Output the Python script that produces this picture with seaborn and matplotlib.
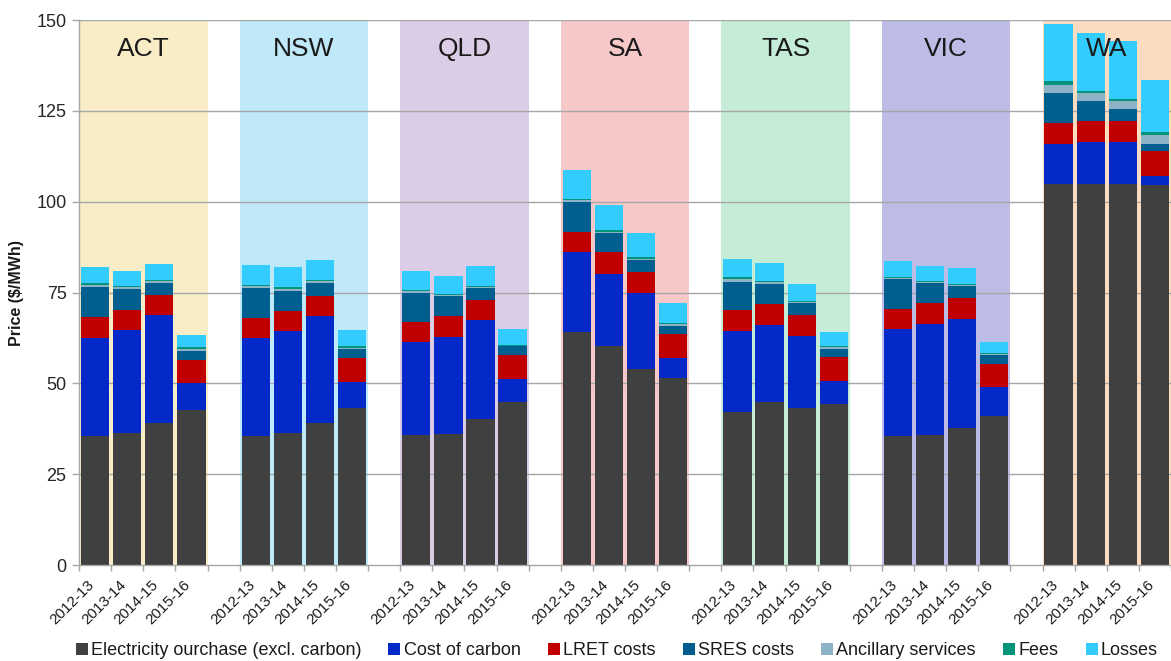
import numpy as np
import pandas as pd
import matplotlib
matplotlib.use("Agg")
import matplotlib.pyplot as plt
import matplotlib.transforms as mtransforms
from matplotlib.lines import Line2D
import seaborn as sns

# ---- data -------------------------------------------------------------
states = ["ACT", "NSW", "QLD", "SA", "TAS", "VIC", "WA"]
years = ["2012-13", "2013-14", "2014-15", "2015-16"]

series_names = [
    "Electricity ourchase (excl. carbon)",
    "Cost of carbon",
    "LRET costs",
    "SRES costs",
    "Ancillary services",
    "Fees",
    "Losses",
]

# values in $/MWh, state by state, four years each
electricity = [35.6, 36.3, 39.1, 42.7,
               35.6, 36.3, 39.1, 43.3,
               35.8, 36.1, 40.2, 44.8,
               64.0, 60.2, 53.9, 51.4,
               42.2, 44.8, 43.2, 44.2,
               35.6, 35.8, 37.6, 40.9,
               104.8, 104.8, 104.8, 104.5]
carbon = [27.0, 28.4, 29.6, 7.3,
          26.8, 28.1, 29.4, 7.1,
          25.5, 26.7, 27.2, 6.4,
          22.1, 19.9, 21.1, 5.6,
          22.2, 21.3, 19.9, 6.4,
          29.3, 30.6, 30.2, 8.0,
          11.2, 11.7, 11.7, 2.6]
lret = [5.6, 5.5, 5.6, 6.4,
        5.5, 5.6, 5.5, 6.7,
        5.6, 5.7, 5.5, 6.5,
        5.6, 6.0, 5.6, 6.7,
        5.7, 5.7, 5.6, 6.6,
        5.6, 5.6, 5.8, 6.5,
        5.7, 5.6, 5.6, 6.8]
sres = [8.4, 5.7, 3.4, 2.6,
        8.4, 5.5, 3.7, 2.3,
        8.1, 5.6, 3.4, 2.5,
        8.3, 5.2, 3.3, 2.2,
        7.9, 5.6, 3.3, 2.3,
        8.2, 5.6, 3.2, 2.3,
        8.3, 5.6, 3.4, 2.1]
ancillary = [0.6, 0.5, 0.5, 0.4,
             0.5, 0.5, 0.4, 0.3,
             0.3, 0.3, 0.3, 0.2,
             0.5, 0.4, 0.4, 0.3,
             0.7, 0.4, 0.5, 0.4,
             0.4, 0.3, 0.3, 0.3,
             2.2, 2.1, 2.2, 2.4]
fees = [0.3, 0.4, 0.3, 0.5,
        0.4, 0.4, 0.4, 0.5,
        0.3, 0.3, 0.3, 0.2,
        0.2, 0.4, 0.4, 0.3,
        0.5, 0.3, 0.3, 0.5,
        0.3, 0.3, 0.3, 0.3,
        0.9, 0.7, 0.7, 0.7]
losses = [4.4, 4.1, 4.4, 3.4,
          5.5, 5.5, 5.4, 4.5,
          5.3, 4.9, 5.3, 4.3,
          8.0, 7.1, 6.7, 5.5,
          5.0, 5.1, 4.6, 3.8,
          4.4, 4.1, 4.3, 3.0,
          15.8, 16.0, 15.7, 14.5]

series_values = [electricity, carbon, lret, sres, ancillary, fees, losses]
series_colors = ["#404040", "#0528C8", "#C00000", "#005F8F",
                 "#8DB4C6", "#00957A", "#33CCFF"]
state_colors = ["#F8EDC6", "#BFE8F8", "#DCCDE6", "#F6C8C8",
                "#C4ECD6", "#BCBCE6", "#FCDCC0"]

# ---- layout of the bars: four years per state plus one empty slot ----
slot = [s * 5 + y for s in range(len(states)) for y in range(len(years))]
df = pd.DataFrame({"slot": slot,
                   "state": [st for st in states for _ in years],
                   "year": years * len(states)})
for name, vals in zip(series_names, series_values):
    df[name] = vals
cum = df[series_names].cumsum(axis=1)

sns.set_theme(style="white")
plt.rcParams["font.family"] = ["Liberation Sans", "DejaVu Sans"]

fig = plt.figure(figsize=(11.71, 6.61), dpi=100)
ax = fig.add_axes([0.0675, 0.1452, 0.9325, 0.8245])

# state background panels
for i, (st, col) in enumerate(zip(states, state_colors)):
    ax.axvspan(i * 5 - 0.5, i * 5 + 3.5, color=col, lw=0, zorder=0)

# horizontal gridlines
for yv in range(25, 151, 25):
    ax.axhline(yv, color="#A6A6A6", lw=1.0, zorder=1)

# stacked bars: draw cumulative totals from the top segment downward
for name, col in reversed(list(zip(series_names, series_colors))):
    plot_df = pd.DataFrame({"slot": df["slot"], "value": cum[name]})
    sns.barplot(data=plot_df, x="slot", y="value", native_scale=True,
                color=col, width=0.88, errorbar=None, linewidth=0,
                saturation=1, ax=ax, zorder=2)

# state names
for i, st in enumerate(states):
    ax.text(i * 5 + 1.5, 142, st, ha="center", va="center",
            fontsize=19, color="#1A1A1A", zorder=5)

ax.set_xlim(-0.5, 33.1)
ax.set_ylim(0, 150)
ax.set_yticks(range(0, 151, 25))
ax.tick_params(axis="y", labelsize=13, labelcolor="#262626",
               length=5, width=1, color="#A6A6A6", pad=4, left=True)

ax.set_xticks(df["slot"])
ax.set_xticklabels(df["year"], rotation=45, ha="right",
                   rotation_mode="anchor", fontsize=11, color="#1A1A1A")
ax.tick_params(axis="x", which="major", length=0, pad=9)
shift = mtransforms.ScaledTranslation(-8 / 100, 0, fig.dpi_scale_trans)
for lbl in ax.get_xticklabels():
    lbl.set_transform(lbl.get_transform() + shift)
ax.set_xticks(np.arange(-0.5, 34, 1.0), minor=True)
ax.tick_params(axis="x", which="minor", length=4, width=1,
               color="#A6A6A6", bottom=True)

ax.set_xlabel("")
ax.set_ylabel("Price ($/MWh)", fontsize=11.5, fontweight="bold",
              color="#1A1A1A", labelpad=9)

for side in ["top", "right"]:
    ax.spines[side].set_visible(False)
for side in ["left", "bottom"]:
    ax.spines[side].set_color("#A6A6A6")
    ax.spines[side].set_linewidth(1.0)
    ax.spines[side].set_zorder(3)

handles = [Line2D([0], [0], marker="s", linestyle="", markersize=8,
                  markerfacecolor=c, markeredgewidth=0)
           for c in series_colors]
fig.legend(handles, series_names, loc="center", ncol=7,
           bbox_to_anchor=(0.526, 0.016), frameon=False,
           fontsize=13, handletextpad=0.1, columnspacing=1.45,
           handlelength=0.8, labelcolor="#1A1A1A")

fig.savefig("out.png", dpi=100)
